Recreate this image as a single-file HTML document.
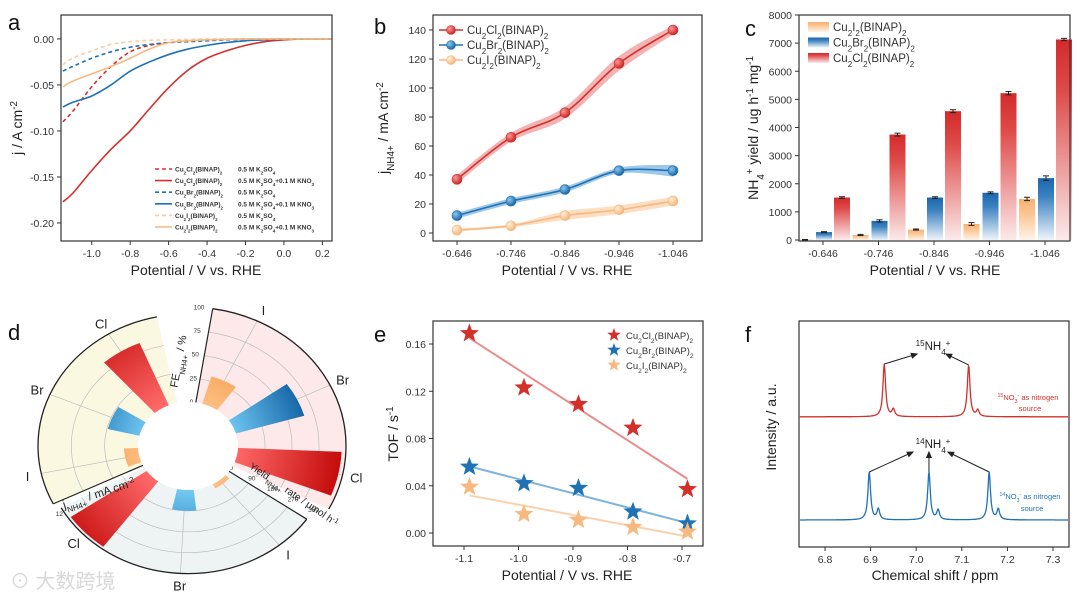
<!DOCTYPE html>
<html><head><meta charset="utf-8"><style>
html,body{margin:0;padding:0;background:#fff;}
svg{display:block;font-family:"Liberation Sans","Noto Sans CJK SC",sans-serif;}
</style></head><body>
<svg id="fig" width="1080" height="602" viewBox="0 0 1080 602" xmlns="http://www.w3.org/2000/svg">
<defs>
<linearGradient id="gRedBar" x1="0" y1="0" x2="0" y2="1"><stop offset="0" stop-color="#d42a2a"/><stop offset="0.25" stop-color="#de4a48"/><stop offset="1" stop-color="#fbeaea"/></linearGradient>
<linearGradient id="gBlueBar" x1="0" y1="0" x2="0" y2="1"><stop offset="0" stop-color="#1a66ad"/><stop offset="0.3" stop-color="#3c82c0"/><stop offset="1" stop-color="#eef4fa"/></linearGradient>
<linearGradient id="gOrBar" x1="0" y1="0" x2="0" y2="1"><stop offset="0" stop-color="#f8b070"/><stop offset="0.4" stop-color="#fbc898"/><stop offset="1" stop-color="#fff4ea"/></linearGradient>
<radialGradient id="pRed" gradientUnits="userSpaceOnUse" cx="188" cy="446" r="155"><stop offset="0.3" stop-color="#ff6a6a"/><stop offset="1" stop-color="#c40a0a"/></radialGradient>
<radialGradient id="pBlue" gradientUnits="userSpaceOnUse" cx="188" cy="446" r="130"><stop offset="0.35" stop-color="#70c8f2"/><stop offset="1" stop-color="#0a5a9e"/></radialGradient>
<radialGradient id="pOr" gradientUnits="userSpaceOnUse" cx="188" cy="446" r="90"><stop offset="0.4" stop-color="#ffc48a"/><stop offset="1" stop-color="#f5a458"/></radialGradient>
<radialGradient id="mRed" cx="0.35" cy="0.35" r="0.7"><stop offset="0" stop-color="#ff9a9a"/><stop offset="1" stop-color="#c41e1e"/></radialGradient>
<radialGradient id="mBlue" cx="0.35" cy="0.35" r="0.7"><stop offset="0" stop-color="#8cc8ee"/><stop offset="1" stop-color="#14609f"/></radialGradient>
<radialGradient id="mOr" cx="0.35" cy="0.35" r="0.7"><stop offset="0" stop-color="#fff0dd"/><stop offset="1" stop-color="#f5b070"/></radialGradient>
</defs>
</svg>
<script>
// ---------- DATA ----------
// panel a
const aPot=[-1.15,-1.1,-1.0,-0.9,-0.8,-0.7,-0.6,-0.5,-0.4,-0.3,-0.2,-0.1,0,0.1,0.2,0.25];
const aRedSolid=[-0.177,-0.168,-0.143,-0.120,-0.100,-0.076,-0.053,-0.034,-0.021,-0.013,-0.007,-0.003,-0.001,0,0,0];
const aRedDash=[-0.090,-0.079,-0.052,-0.030,-0.014,-0.007,-0.004,-0.002,-0.001,-0.0005,0,0,0,0,0,0];
const aBlueSolid=[-0.074,-0.069,-0.062,-0.050,-0.035,-0.025,-0.017,-0.011,-0.007,-0.004,-0.002,-0.001,0,0,0,0];
const aBlueDash=[-0.035,-0.030,-0.021,-0.014,-0.009,-0.006,-0.004,-0.003,-0.002,-0.001,-0.0005,0,0,0,0,0];
const aOrSolid=[-0.052,-0.046,-0.038,-0.030,-0.021,-0.011,-0.004,-0.002,-0.001,-0.0005,0,0,0,0,0,0];
const aOrDash=[-0.028,-0.021,-0.013,-0.006,-0.003,-0.0015,-0.001,-0.0005,0,0,0,0,0,0,0,0];
const aXTicks=[-1.0,-0.8,-0.6,-0.4,-0.2,0.0,0.2];
const aYTicks=[0,-0.05,-0.10,-0.15,-0.20];
// panel b
const bCats=['-0.646','-0.746','-0.846','-0.946','-1.046'];
const bCl=[37,66,83,117,140];
const bClErr=[3,3,4,5,3];
const bBr=[12,22,30,43,43];
const bBrErr=[2,2,2,2,4];
const bI=[2,5,12,16,22];
const bIErr=[1,1,3,3,3];
const bYTicks=[0,20,40,60,80,100,120,140];
// panel c
const cCats=['-0.646','-0.746','-0.846','-0.946','-1.046'];
const cI=[10,180,370,570,1460];
const cIErr=[10,20,20,50,60];
const cBr=[280,680,1510,1680,2200];
const cBrErr=[20,40,30,30,80];
const cCl=[1510,3750,4580,5220,7130];
const cClErr=[30,50,50,60,40];
const cYTicks=[0,1000,2000,3000,4000,5000,6000,7000,8000];
// panel d (polar)
const dLabels=['I','Br','Cl'];
const dJ=[1.7,3.9,9.2];
const dFE=[30,66,96];
const dYield=[20,90,350];
const dJTicks=[0,4,8,12];
const dFETicks=[0,25,50,75,100];
const dYTicks=[0,90,180,270,360];
// panel e
const ePot=[-1.09,-0.99,-0.89,-0.79,-0.69];
const eCl=[0.169,0.123,0.109,0.089,0.037];
const eBr=[0.056,0.042,0.038,0.018,0.008];
const eI=[0.039,0.016,0.011,0.005,0.001];
const eXTicks=[-1.1,-1.0,-0.9,-0.8,-0.7];
const eYTicks=[0,0.04,0.08,0.12,0.16];
// panel f
const fRedPos=[6.930,6.950,7.115,7.135];
const fRedH=[1.10,0.15,1.08,0.13];
const fBluePos=[6.897,6.917,7.028,7.048,7.160,7.180];
const fBlueH=[1.00,0.22,1.00,0.20,1.00,0.22];
const fXTicks=[6.8,6.9,7.0,7.1,7.2,7.3];

// ---------- HELPERS ----------
const NS='http://www.w3.org/2000/svg';
const svg=document.getElementById('fig');
function el(tag,attrs,parent){const e=document.createElementNS(NS,tag);for(const k in attrs)e.setAttribute(k,attrs[k]);(parent||svg).appendChild(e);return e;}
function lin(d0,d1,r0,r1){return v=>r0+(v-d0)*(r1-r0)/(d1-d0);}
function sub(s){return '<tspan baseline-shift="sub" font-size="70%">'+s+'</tspan>';}
function sup(s){return '<tspan baseline-shift="super" font-size="70%">'+s+'</tspan>';}
function txt(x,y,html,size,opts){const o=Object.assign({x:x,y:y,'font-size':size,fill:'#222'},opts||{});const t=el('text',o);t.innerHTML=html;return t;}
function smooth(pts){let d='M'+pts[0][0]+','+pts[0][1];for(let i=0;i<pts.length-1;i++){const p0=pts[i-1]||pts[i],p1=pts[i],p2=pts[i+1],p3=pts[i+2]||p2;const c1=[p1[0]+(p2[0]-p0[0])/6,p1[1]+(p2[1]-p0[1])/6],c2=[p2[0]-(p3[0]-p1[0])/6,p2[1]-(p3[1]-p1[1])/6];d+=' C'+c1[0]+','+c1[1]+' '+c2[0]+','+c2[1]+' '+p2[0]+','+p2[1];}return d;}
function frame(x0,y0,x1,y1,name){const r=el('rect',{x:x0,y:y0,width:x1-x0,height:y1-y0,fill:'none',stroke:'#333','stroke-width':1.2});


return r;}
function xTick(x,y,label){const l=el('line',{x1:x,x2:x,y1:y,y2:y+4,stroke:'#333'});


const t=txt(x,y+16,label,10.5,{'text-anchor':'middle',fill:'#333'});

}
function yTick(x,y,label){const l=el('line',{x1:x-4,x2:x,y1:y,y2:y,stroke:'#333'});


const t=txt(x-7,y+4,label,10.5,{'text-anchor':'end',fill:'#333'});

}
function panelLetter(x,y,s){const t=txt(x,y,s,22,{fill:'#111'});

}
function xTitle(x,y,s){const t=txt(x,y,s,14,{'text-anchor':'middle',fill:'#222'});

}
function yTitle(x,y,s){const t=txt(0,0,s,14,{'text-anchor':'middle',fill:'#222',transform:'translate('+x+','+y+') rotate(-90)'});

}
function star(cx,cy,r,fill){let d='';for(let i=0;i<10;i++){const rr=i%2?r*0.42:r;const a=-Math.PI/2+i*Math.PI/5;d+=(i?'L':'M')+(cx+rr*Math.cos(a)).toFixed(1)+','+(cy+rr*Math.sin(a)).toFixed(1);}return el('path',{d:d+'Z',fill:fill});}

const RED='#d3302c',BLUE='#1f72b4',OR='#f7b980',ORL='#f9cda6';

// ---------- PANEL A ----------
(function(){
const X=lin(-1.16,0.25,61,332),Y=lin(-0.2196,0.026,241,15);
panelLetter(8,30,'a');
const series=[[aRedDash,RED,'4,3','cl-k2so4'],[aRedSolid,RED,'','cl-kno3'],[aBlueDash,BLUE,'4,3','br-k2so4'],[aBlueSolid,BLUE,'','br-kno3'],[aOrDash,ORL,'4,3','i-k2so4'],[aOrSolid,OR,'','i-kno3']];
series.forEach(s=>{const p=el('path',{d:smooth(aPot.map((v,i)=>[X(v),Y(s[0][i])])),fill:'none',stroke:s[1],'stroke-width':1.6,'stroke-dasharray':s[2]});

});
frame(61,15,332,241,'plot-frame-a');
aXTicks.forEach(v=>xTick(X(v),241,v.toFixed(1)));
aYTicks.forEach(v=>yTick(61,Y(v),v.toFixed(2)));
xTitle(196,275,'Potential / V vs. RHE');
yTitle(22,128,'j / A cm'+sup('-2'));
const names=['Cu'+sub('2')+'Cl'+sub('2')+'(BINAP)'+sub('2'),'Cu'+sub('2')+'Cl'+sub('2')+'(BINAP)'+sub('2'),'Cu'+sub('2')+'Br'+sub('2')+'(BINAP)'+sub('2'),'Cu'+sub('2')+'Br'+sub('2')+'(BINAP)'+sub('2'),'Cu'+sub('2')+'I'+sub('2')+'(BINAP)'+sub('2'),'Cu'+sub('2')+'I'+sub('2')+'(BINAP)'+sub('2')];
const conds=['0.5 M K'+sub('2')+'SO'+sub('4'),'0.5 M K'+sub('2')+'SO'+sub('4')+'+0.1 M KNO'+sub('3'),'0.5 M K'+sub('2')+'SO'+sub('4'),'0.5 M K'+sub('2')+'SO'+sub('4')+'+0.1 M KNO'+sub('3'),'0.5 M K'+sub('2')+'SO'+sub('4'),'0.5 M K'+sub('2')+'SO'+sub('4')+'+0.1 M KNO'+sub('3')];
series.forEach((s,i)=>{const y=169+i*11.6;
const l=el('line',{x1:155,x2:172,y1:y,y2:y,stroke:s[1],'stroke-width':1.6,'stroke-dasharray':s[2]});


const t=txt(175,y+2.5,names[i],6.5,{'font-weight':'bold',fill:'#333'});


const t2=txt(238,y+2.5,conds[i],6.5,{'font-weight':'bold',fill:'#333'});

});
})();

// ---------- PANEL B ----------
(function(){
const X=i=>457+54*i,Y=lin(0,140,233,30);
panelLetter(374,34,'b');
const ser=[[bI,bIErr,OR,'#fbd3ad','mOr','i'],[bBr,bBrErr,BLUE,'#7fb6e0','mBlue','br'],[bCl,bClErr,RED,'#ee9a98','mRed','cl']];
ser.forEach(s=>{
const up=s[0].map((v,i)=>[X(i),Y(v+s[1][i])]),dn=s[0].map((v,i)=>[X(i),Y(v-s[1][i])]).reverse();
const band=el('path',{d:smooth(up)+' L'+dn[0][0]+','+dn[0][1]+smooth(dn).slice(smooth(dn).indexOf(' C'))+'Z',fill:s[3],opacity:0.75});


const ln=el('path',{d:smooth(s[0].map((v,i)=>[X(i),Y(v)])),fill:'none',stroke:s[2],'stroke-width':1.6});


s[0].forEach((v,i)=>{const c=el('circle',{cx:X(i),cy:Y(v),r:5,fill:'url(#'+s[4]+')',stroke:s[2],'stroke-width':0.6});

});
});
frame(433,15,702,241,'plot-frame-b');
bCats.forEach((c,i)=>xTick(X(i),241,c));
bYTicks.forEach(v=>yTick(433,Y(v),String(v)));
xTitle(567,275,'Potential / V vs. RHE');
yTitle(388,128,'j'+sub('NH4+')+' / mA cm'+sup('-2'));
const leg=[[RED,'mRed','Cu'+sub('2')+'Cl'+sub('2')+'(BINAP)'+sub('2'),'cl'],[BLUE,'mBlue','Cu'+sub('2')+'Br'+sub('2')+'(BINAP)'+sub('2'),'br'],[OR,'mOr','Cu'+sub('2')+'I'+sub('2')+'(BINAP)'+sub('2'),'i']];
leg.forEach((l,i)=>{const y=30+i*15;
const a=el('line',{x1:439,x2:463,y1:y,y2:y,stroke:l[0],'stroke-width':1.6});


const c=el('circle',{cx:451,cy:y,r:4.5,fill:'url(#'+l[1]+')',stroke:l[0],'stroke-width':0.6});


const t=txt(467,y+4,l[2],11.5,{fill:'#333'});

});
})();

// ---------- PANEL C ----------
(function(){
const X=i=>823+55.5*i,Y=lin(0,8000,240,15);
panelLetter(745,36,'c');
const ser=[[cI,cIErr,'gOrBar',-18,'i'],[cBr,cBrErr,'gBlueBar',1,'br'],[cCl,cClErr,'gRedBar',19,'cl']];
ser.forEach(s=>{s[0].forEach((v,i)=>{const cx=X(i)+s[3];
const r=el('rect',{x:cx-8,y:Y(v),width:16,height:Math.max(0.5,240-Y(v)),fill:'url(#'+s[2]+')'});


const e=el('path',{d:'M'+cx+','+Y(v+s[1][i])+'V'+Y(v-s[1][i])+'M'+(cx-3)+','+Y(v+s[1][i])+'h6M'+(cx-3)+','+Y(v-s[1][i])+'h6',stroke:'#222','stroke-width':1});

});});
frame(799,15,1070,241,'plot-frame-c');
cCats.forEach((c,i)=>xTick(X(i),241,c));
cYTicks.forEach(v=>yTick(799,Y(v),String(v)));
xTitle(935,275,'Potential / V vs. RHE');
yTitle(758,128,'NH'+sub('4')+sup('+')+' yield / ug h'+sup('-1')+' mg'+sup('-1'));
const leg=[['gOrBar','Cu'+sub('2')+'I'+sub('2')+'(BINAP)'+sub('2'),'i'],['gBlueBar','Cu'+sub('2')+'Br'+sub('2')+'(BINAP)'+sub('2'),'br'],['gRedBar','Cu'+sub('2')+'Cl'+sub('2')+'(BINAP)'+sub('2'),'cl']];
leg.forEach((l,i)=>{const y=27+i*15.5;
const r=el('rect',{x:808,y:y-5,width:21,height:10,fill:'url(#'+l[0]+')'});


const t=txt(833,y+4,l[1],11.5,{fill:'#333'});

});
})();

// ---------- PANEL D (polar) ----------
(function(){
const CX=188,CY=446,KY=0.88,R0=50;
panelLetter(8,340,'d');
const P=(r,a)=>{const t=a*Math.PI/180;return [CX+r*Math.sin(t),CY-r*Math.cos(t)*KY];};
function sector(r0,r1,a0,a1){const p1=P(r1,a0),p2=P(r1,a1),p3=P(r0,a1),p4=P(r0,a0);const big=(a1-a0)>180?1:0;
return 'M'+p1+' A'+r1+','+(r1*KY)+' 0 '+big+' 1 '+p2+' L'+p3+' A'+r0+','+(r0*KY)+' 0 '+big+' 0 '+p4+'Z';}
function arc(r,a0,a1){const p1=P(r,a0),p2=P(r,a1);return 'M'+p1+' A'+r+','+(r*KY)+' 0 0 1 '+p2;}
const groups=[
 {name:'current-density',vals:dJ,ticks:dJTicks,max:12,R:150,a0:244,a1:348,bars:[258,293,328],bg:'#fbf8e2',axisA:244},
 {name:'faradaic-efficiency',vals:dFE,ticks:dFETicks,max:100,R:158,a0:9,a1:117,bars:[26,64,102],bg:'#fde9e9',axisA:9},
 {name:'yield-rate',vals:dYield,ticks:dYTicks,max:360,R:145,a0:125,a1:241,bars:[141,183,226],bg:'#eef4f4',axisA:125}];
const fills=['url(#pOr)','url(#pBlue)','url(#pRed)'];
groups.forEach(g=>{
const s=lin(0,g.max,R0,g.R);
const bg=el('path',{d:sector(R0,g.R,g.a0,g.a1),fill:g.bg});


g.ticks.slice(1).forEach(t=>{const c=el('path',{d:arc(s(t),g.a0,g.a1),fill:'none',stroke:'#bdbdbd','stroke-width':0.7});

});
g.bars.forEach(a=>{const p0=P(R0,a),p1=P(g.R,a);const l=el('line',{x1:p0[0],y1:p0[1],x2:p1[0],y2:p1[1],stroke:'#bdbdbd','stroke-width':0.7});

});
g.vals.forEach((v,i)=>{const b=el('path',{d:sector(R0,s(v),g.bars[i]-9.5,g.bars[i]+9.5),fill:fills[i]});


const lp=P(g.R+14,g.bars[i]);const t=txt(lp[0],lp[1]+5,dLabels[i],13,{'text-anchor':'middle',fill:'#222'});

});
const oa=el('path',{d:arc(g.R,g.a0,g.a1),fill:'none',stroke:'#222','stroke-width':1.3});


const q0=P(R0,g.axisA),q1=P(g.R,g.axisA);
const ax=el('line',{x1:q0[0],y1:q0[1],x2:q1[0],y2:q1[1],stroke:'#222','stroke-width':1.2});


g.ticks.forEach(t=>{const p=P(s(t),g.axisA-5);const tl=txt(p[0],p[1]+2,String(t),6.5,{'text-anchor':'middle',fill:'#333'});

});
});
const hole=el('ellipse',{cx:CX,cy:CY,rx:R0,ry:R0*KY,fill:'#fff'});


const t1=txt(0,0,'FE'+sub('NH4+')+' / %',11,{transform:'translate(182,362) rotate(-80)','text-anchor':'middle'});


const t2=txt(0,0,'j'+sub('NH4+')+' / mA cm'+sup('-2'),11.5,{transform:'translate(100,497) rotate(-18)','text-anchor':'middle'});


const t3=txt(0,0,'Yield'+sub('NH4+')+' rate / μmol h'+sup('-1'),10,{transform:'translate(292,497) rotate(34)','text-anchor':'middle'});


const wm=txt(10,588,'⊙ 大数跨境',20,{fill:'#d8d8d8','font-family':'"Liberation Sans","Noto Sans CJK SC",sans-serif'});


})();

// ---------- PANEL E ----------
(function(){
const X=lin(-1.1,-0.7,464,682),Y=lin(0,0.16,533,344);
panelLetter(374,342,'e');
const ser=[[eCl,RED,'#ea8c8c','cl'],[eBr,BLUE,'#7eb3dc','br'],[eI,OR,'#fbd1ac','i']];
ser.forEach(s=>{
const mx=ePot.reduce((a,b)=>a+b,0)/ePot.length,my=s[0].reduce((a,b)=>a+b,0)/s[0].length;
let num=0,den=0;ePot.forEach((x,i)=>{num+=(x-mx)*(s[0][i]-my);den+=(x-mx)*(x-mx);});
const k=num/den,b=my-k*mx;const xa=ePot[0],xb=ePot[ePot.length-1];
const fl=el('line',{x1:X(xa),y1:Y(k*xa+b),x2:X(xb),y2:Y(k*xb+b),stroke:s[2],'stroke-width':2});


s[0].forEach((v,i)=>{const st=star(X(ePot[i]),Y(v),10,s[1]);

});
});
frame(433,321,703,546,'plot-frame-e');
eXTicks.forEach(v=>xTick(X(v),546,v.toFixed(1)));
eYTicks.forEach(v=>yTick(433,Y(v),v.toFixed(2)));
xTitle(567,580,'Potential / V vs. RHE');
yTitle(398,434,'TOF / s'+sup('-1'));
const leg=[[RED,'Cu'+sub('2')+'Cl'+sub('2')+'(BINAP)'+sub('2'),'cl'],[BLUE,'Cu'+sub('2')+'Br'+sub('2')+'(BINAP)'+sub('2'),'br'],[OR,'Cu'+sub('2')+'I'+sub('2')+'(BINAP)'+sub('2'),'i']];
leg.forEach((l,i)=>{const y=335+i*15;
const st=star(614,y,7,l[0]);


const t=txt(626,y+4,l[1],9.5,{fill:'#333'});

});
})();

// ---------- PANEL F ----------
(function(){
const X=lin(6.8,7.3,825,1053),Y=v=>520-48*v;
panelLetter(745,342,'f');
function spec(pos,h,off,w){const pts=[];for(let x=6.745;x<=7.334;x+=0.0012){let v=0;pos.forEach((p,i)=>{const d=(x-p)/w;v+=h[i]/(1+d*d);});pts.push([X(x).toFixed(1),Y(v+off).toFixed(1)]);}return 'M'+pts.map(p=>p.join(',')).join('L');}
const r=el('path',{d:spec(fRedPos,fRedH,2.15,0.0035),fill:'none',stroke:RED,'stroke-width':1.3});


const b=el('path',{d:spec(fBluePos,fBlueH,0,0.0035),fill:'none',stroke:BLUE,'stroke-width':1.3});


frame(799,321,1069,547,'plot-frame-f');
fXTicks.forEach(v=>xTick(X(v),547,v.toFixed(1)));
xTitle(935,580,'Chemical shift / ppm');
yTitle(776,427,'Intensity / a.u.');
function arrow(x1,y1,x2,y2){const a=Math.atan2(y2-y1,x2-x1);const p=el('path',{d:'M'+x1+','+y1+'L'+x2+','+y2+'M'+(x2-6*Math.cos(a-0.4))+','+(y2-6*Math.sin(a-0.4))+'L'+x2+','+y2+'L'+(x2-6*Math.cos(a+0.4))+','+(y2-6*Math.sin(a+0.4))+'Z',stroke:'#222','stroke-width':1,fill:'#222'});

}
arrow(X(fRedPos[0]),Y(fRedH[0]+2.15),917,354);
arrow(X(fRedPos[2]),Y(fRedH[2]+2.15),946,354);
arrow(X(fBluePos[0]),Y(fBlueH[0]),913,452);
arrow(X(fBluePos[2]),Y(fBlueH[2]),X(fBluePos[2]),452);
arrow(X(fBluePos[4]),Y(fBlueH[4]),948,452);
const l1=txt(933,350,sup('15')+'NH'+sub('4')+sup('+'),11.5,{'text-anchor':'middle'});


const l2=txt(933,448,sup('14')+'NH'+sub('4')+sup('+'),11.5,{'text-anchor':'middle'});


const s1=txt(1028,400,sup('15')+'NO'+sub('3')+sup('-')+' as nitrogen',7.5,{'text-anchor':'middle',fill:RED});


const s2=txt(1030,411,'source',7.5,{'text-anchor':'middle',fill:RED});


const s3=txt(1030,499,sup('14')+'NO'+sub('3')+sup('-')+' as nitrogen',7.5,{'text-anchor':'middle',fill:BLUE});


const s4=txt(1032,511,'source',7.5,{'text-anchor':'middle',fill:BLUE});


})();
</script>
</body></html>
